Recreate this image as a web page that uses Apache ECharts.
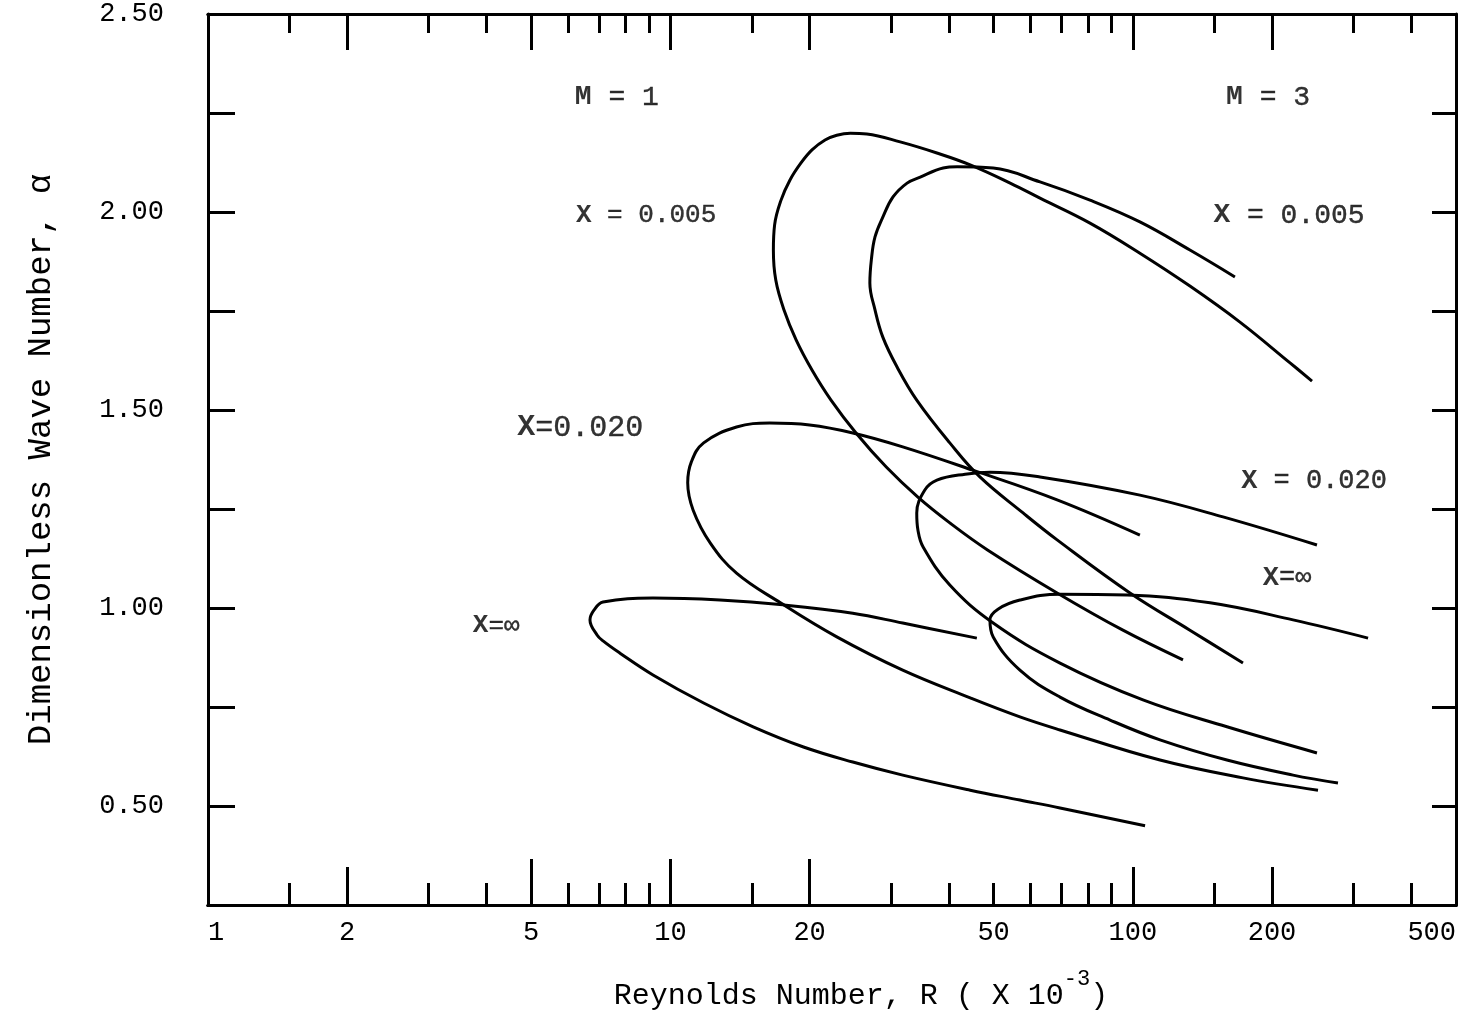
<!DOCTYPE html>
<html>
<head>
<meta charset="utf-8">
<script src="https://cdn.jsdelivr.net/npm/echarts@6/dist/echarts.min.js"></script>
<style>
html,body{margin:0;padding:0;background:#fff;}
#chart{width:1467px;height:1016px;}
</style>
</head>
<body>
<div id="chart"></div>
<script>
// ---- tick / label values ----
const xLabelValues = [1, 2, 5, 10, 20, 50, 100, 200, 500];
const yLabelValues = [0.5, 1.0, 1.5, 2.0, 2.5];
const yTickValues = [0.5, 0.75, 1.0, 1.25, 1.5, 1.75, 2.0, 2.25];
const xTicksLong = [5, 10, 20];
const xTicksMid = [2, 100, 200];
const xTicksShort = [1.5, 3, 4, 6, 7, 8, 9, 15, 30, 40, 50, 60, 70, 80, 90, 150, 300, 400];
const xTopTicksLong = [2, 5, 10, 20, 100, 200];
const xTopTicksShort = [1.5, 3, 4, 6, 7, 8, 9, 15, 30, 40, 50, 60, 70, 80, 90, 150, 300, 400];

// ---- curves: [R (x10^-3), alpha] ----
const curveM1X005 = [[244.1,1.573],[218.8,1.619],[170.5,1.722],[132.9,1.813],[103.6,1.896],[80.8,1.972],[63.0,2.035],[54.3,2.073],[44.5,2.119],[37.7,2.149],[31.4,2.177],[26.6,2.197],[24.5,2.199],[22.9,2.194],[21.6,2.182],[20.24,2.157],[19.16,2.124],[18.14,2.081],[17.35,2.030],[16.8,1.967],[16.7,1.904],[16.9,1.828],[17.6,1.753],[18.7,1.677],[20.24,1.601],[22.25,1.525],[25.2,1.442],[29.3,1.356],[34.3,1.280],[40.2,1.215],[48.6,1.146],[68.6,1.038],[95.2,0.944],[128.4,0.869]];
const curveM3X005 = [[166.3,1.836],[132.9,1.904],[103.6,1.975],[80.8,2.030],[63.0,2.076],[49.9,2.111],[41.7,2.114],[38.9,2.111],[34.7,2.088],[32.5,2.073],[30.3,2.038],[28.8,1.987],[27.7,1.937],[27.2,1.879],[27.0,1.821],[27.7,1.753],[28.8,1.684],[30.9,1.609],[34.1,1.525],[40.2,1.417],[46.7,1.331],[57.9,1.240],[68.6,1.172],[98.6,1.038],[132.9,0.944],[173.1,0.861]];
const curveM1X020 = [[103.6,1.184],[68.6,1.273],[45.1,1.348],[31.8,1.407],[24.8,1.442],[20.0,1.462],[16.4,1.467],[13.9,1.457],[11.8,1.417],[11.1,1.369],[10.9,1.316],[11.2,1.247],[12.2,1.164],[13.9,1.088],[17.3,1.013],[22.9,0.927],[31.8,0.843],[44.5,0.773],[57.0,0.725],[69.6,0.692],[114.5,0.616],[173.1,0.571],[251.5,0.540]];
const curveM3X020 = [[250.2,1.159],[156.7,1.230],[103.6,1.285],[63.0,1.331],[49.1,1.343],[43.4,1.338],[37.7,1.323],[35.5,1.298],[34.1,1.240],[34.3,1.197],[35.2,1.154],[40.2,1.058],[49.9,0.962],[69.6,0.861],[105.2,0.768],[159.8,0.700],[250.2,0.634]];
const curveM1Xinf = [[46.0,0.924],[31.8,0.962],[24.8,0.987],[17.5,1.008],[12.8,1.020],[9.17,1.025],[7.15,1.015],[6.84,0.995],[6.70,0.970],[6.94,0.932],[7.15,0.917],[7.78,0.886],[9.17,0.831],[11.8,0.760],[15.1,0.700],[19.4,0.649],[24.8,0.611],[31.8,0.578],[44.5,0.540],[57.0,0.515],[69.6,0.495],[106.3,0.450]];
const curveM3Xinf = [[322.7,0.924],[222.1,0.970],[146.9,1.013],[97.2,1.033],[69.6,1.035],[57.0,1.020],[51.1,0.997],[49.1,0.970],[49.9,0.927],[57.0,0.843],[69.6,0.775],[89.3,0.717],[114.5,0.667],[159.8,0.616],[222.1,0.578],[277.8,0.558]];

// ---- annotation texts anchored at data coordinates ----
const annotationTexts = ['M = 1', 'M = 3', 'X = 0.005', 'X = 0.005', 'X=0.020', 'X = 0.020', 'X=\u221e', 'X=\u221e'];
const annotationR = [7.66, 196.1, 8.86, 217.7, 6.38, 246.6, 215.6, 4.20];
const annotationAlpha = [2.290, 2.290, 1.992, 1.992, 1.455, 1.321, 1.076, 0.955];

// ---- styling ----
const FONT = "'Liberation Mono', 'Courier New', monospace";
const INK = '#000';
const annotationSizes = [28, 28, 26, 28, 30, 27, 27, 26];

function xAxisDef(position, tickValues, tickLen, withLabels) {
  const ax = {
    type: 'log', logBase: 10, min: 1, max: 500, position: position, offset: 0,
    axisLine: { show: true, onZero: false, lineStyle: { color: INK, width: 3 } },
    axisTick: { show: true, inside: true, length: tickLen, customValues: tickValues, lineStyle: { color: INK, width: 3 } },
    axisLabel: { show: false },
    splitLine: { show: false },
    minorTick: { show: false },
    minorSplitLine: { show: false }
  };
  if (withLabels) {
    ax.axisLabel = {
      show: true, customValues: xLabelValues, margin: 14,
      fontFamily: FONT, fontSize: 27, color: INK,
      formatter: function (v) { return String(Math.round(v)); },
      alignMinLabel: 'left', alignMaxLabel: 'right'
    };
    ax.name = '{t|Reynolds Number, R ( X 10}{s|-3}{t|)}';
    ax.nameLocation = 'middle';
    ax.nameGap = 63;
    ax.nameTextStyle = {
      padding: [0, 0, 0, 58],
      rich: {
        t: { fontFamily: FONT, fontSize: 30, color: INK, lineHeight: 56 },
        s: { fontFamily: FONT, fontSize: 22, color: INK, lineHeight: 22, verticalAlign: 'top' }
      }
    };
  }
  return ax;
}

function yAxisDef(position, withLabels) {
  const ax = {
    type: 'value', min: 0.25, max: 2.5, interval: 0.25, position: position,
    axisLine: { show: true, onZero: false, lineStyle: { color: INK, width: 3 } },
    axisTick: { show: true, inside: true, length: position === 'left' ? 27 : 24, customValues: yTickValues, lineStyle: { color: INK, width: 3 } },
    axisLabel: { show: false },
    splitLine: { show: false }
  };
  if (withLabels) {
    ax.axisLabel = {
      show: true, customValues: yLabelValues, margin: 44,
      fontFamily: FONT, fontSize: 27, color: INK,
      formatter: function (v) { return Number(v).toFixed(2); }
    };
    ax.name = 'Dimensionless Wave Number, \u03b1';
    ax.nameLocation = 'middle';
    ax.nameGap = 150;
    ax.nameTextStyle = { fontFamily: FONT, fontSize: 34, color: INK };
  }
  return ax;
}

const curves = [curveM1X005, curveM3X005, curveM1X020, curveM3X020, curveM1Xinf, curveM3Xinf];
const curveNames = ['M=1, X=0.005', 'M=3, X=0.005', 'M=1, X=0.020', 'M=3, X=0.020', 'M=1, X=\u221e', 'M=3, X=\u221e'];

const series = curves.map(function (c, i) {
  return {
    name: curveNames[i], type: 'line', data: c, smooth: 0.4, symbol: 'none',
    xAxisIndex: 0, yAxisIndex: 0,
    lineStyle: { color: INK, width: 3 }, clip: false, silent: true
  };
});

function boldLead(t) {
  // first letter (M or X) in bold, rest regular
  return '{b|' + t.charAt(0) + '}{r|' + t.slice(1) + '}';
}

series.push({
  type: 'scatter', xAxisIndex: 0, yAxisIndex: 0, symbolSize: 1, silent: true,
  itemStyle: { color: 'rgba(0,0,0,0)' },
  label: { show: true, position: 'inside', fontFamily: FONT, color: INK },
  data: annotationTexts.map(function (t, i) {
    const fs = annotationSizes[i];
    return {
      value: [annotationR[i], annotationAlpha[i]],
      label: {
        formatter: boldLead(t),
        rich: {
          b: { fontFamily: FONT, fontSize: fs, fontWeight: 'bold', color: INK },
          r: { fontFamily: FONT, fontSize: fs, color: INK, textBorderColor: INK, textBorderWidth: 0.4 }
        }
      }
    };
  }),
  z: 5
});

const chart = echarts.init(document.getElementById('chart'), null, { renderer: 'canvas' });
chart.setOption({
  backgroundColor: '#fff',
  animation: false,
  grid: { left: 208, right: 11, top: 14, bottom: 111, containLabel: false, outerBoundsMode: 'none' },
  xAxis: [
    xAxisDef('bottom', xTicksLong, 46, true),
    xAxisDef('bottom', xTicksMid, 38, false),
    xAxisDef('bottom', xTicksShort, 22, false),
    xAxisDef('top', xTopTicksLong, 36, false),
    xAxisDef('top', xTopTicksShort, 19, false)
  ],
  yAxis: [yAxisDef('left', true), yAxisDef('right', false)],
  series: series
});
</script>
</body>
</html>
